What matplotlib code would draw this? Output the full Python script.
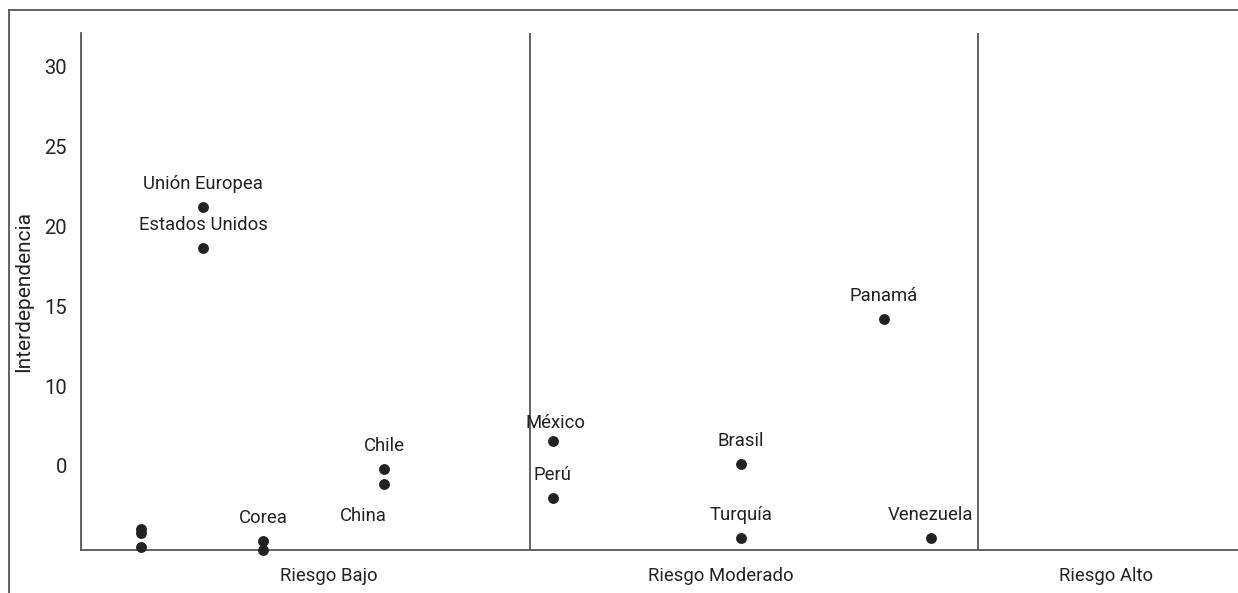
import matplotlib.pyplot as plt
from matplotlib.lines import Line2D

plt.rcParams['font.family'] = ['Roboto', 'DejaVu Sans']

# datos (x: posición en la escala de riesgo, y: interdependencia)
paises = ['Unión Europea', 'Estados Unidos', 'Chile', 'China', 'Corea', '',
          '', '', '', 'México', 'Perú', 'Brasil', 'Turquía', 'Panamá', 'Venezuela']
riesgo = [0.272, 0.272, 0.676, 0.676, 0.406, 0.406,
          0.134, 0.134, 0.134, 1.052, 1.052, 1.472, 1.472, 1.790, 1.895]
interdep = [21.2, 18.65, 4.8, 3.85, 0.28, -0.28,
            1.03, 0.78, -0.09, 6.55, 2.98, 5.11, 0.47, 14.2, 0.47]

# desplazamiento de cada etiqueta (pts)
offsets = {'China': (-15, -23), 'México': (2, 13)}

yticks = [30, 25, 20, 15, 10, 5]
ytick_labels = ['30', '25', '20', '15', '10', '0']
categorias = ['Riesgo Bajo', 'Riesgo Moderado', 'Riesgo Alto']
cat_pos = [0.553, 1.427, 2.285]
separadores = [1, 2]

gris = '#555555'
texto = '#222222'

fig = plt.figure(figsize=(12.38, 5.93), dpi=100)
ax = fig.add_axes([81 / 1238, 43 / 593, 1 - 81 / 1238, 517 / 593])

ax.plot(riesgo, interdep, 'o', color=texto, markersize=6.8, linestyle='none',
        clip_on=False, zorder=3)

for nombre, x, y in zip(paises, riesgo, interdep):
    if not nombre:
        continue
    dx, dy = offsets.get(nombre, (0, 16.5))
    ax.annotate(nombre, (x, y), xytext=(dx, dy), textcoords='offset points',
                ha='center', va='center', fontsize=13.3, color=texto)

for s in separadores:
    ax.axvline(s, color=gris, linewidth=1.3)

ax.set_xlim(0, 1157 / 448.5)
ax.set_ylim(-0.28, 32.13)

ax.set_yticks(yticks)
ax.set_yticklabels(ytick_labels)
ax.set_xticks(cat_pos)
ax.set_xticklabels(categorias)
ax.tick_params(axis='both', length=0, colors=texto)
ax.tick_params(axis='y', pad=10, labelsize=14.5)
ax.tick_params(axis='x', pad=12, labelsize=13.3)
ax.set_ylabel('Interdependencia', fontsize=15, color=texto, labelpad=8)

for lado in ['top', 'right']:
    ax.spines[lado].set_visible(False)
for lado in ['left', 'bottom']:
    ax.spines[lado].set_color(gris)
    ax.spines[lado].set_linewidth(1.3)

# marco exterior
fig.add_artist(Line2D([9 / 1238, 1], [1 - 10 / 593, 1 - 10 / 593], color=gris, linewidth=1.3))
fig.add_artist(Line2D([9 / 1238, 9 / 1238], [0, 1 - 10 / 593], color=gris, linewidth=1.3))

fig.savefig('out.png', dpi=100)
